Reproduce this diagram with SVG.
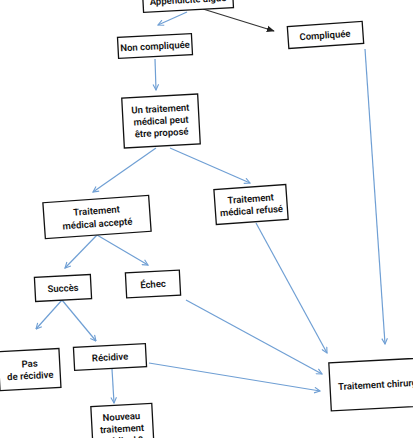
<svg xmlns="http://www.w3.org/2000/svg" width="413" height="438" viewBox="0 0 413 438">
<defs>
<style>
.box{fill:#fff;stroke:#111;stroke-width:1.3}
.t{font-family:Roboto,"Noto Sans",sans-serif;font-size:9.5px;font-weight:600;fill:#111;text-anchor:middle}
.c{stroke:#6f9fd4;stroke-width:1.2;fill:none;marker-end:url(#ab)}
.k{stroke:#333;stroke-width:1.2;fill:none;marker-end:url(#ak)}
</style>
<marker id="ab" viewBox="0 0 10 10" refX="9" refY="5" markerWidth="7" markerHeight="7" orient="auto" markerUnits="userSpaceOnUse">
<path d="M1,1 L9,5 L1,9" fill="none" stroke="#6f9fd4" stroke-width="1.6"/>
</marker>
<marker id="ak" viewBox="0 0 10 10" refX="9" refY="5" markerWidth="8" markerHeight="8" orient="auto" markerUnits="userSpaceOnUse">
<path d="M0,1 L10,5 L0,9 z" fill="#222"/>
</marker>
</defs>
<rect width="413" height="438" fill="#fff"/>
<g id="connectors">
<line class="c" x1="187" y1="12" x2="158" y2="25"/>
<line class="k" x1="203" y1="9" x2="274" y2="31"/>
<line class="c" x1="155" y1="59" x2="156" y2="90"/>
<line class="c" x1="156" y1="148" x2="93" y2="192"/>
<line class="c" x1="170" y1="148" x2="250" y2="183"/>
<line class="c" x1="97" y1="235" x2="65" y2="268"/>
<line class="c" x1="97" y1="235" x2="148" y2="265"/>
<line class="c" x1="62" y1="300" x2="36" y2="329"/>
<line class="c" x1="62" y1="300" x2="96" y2="341"/>
<line class="c" x1="112" y1="369" x2="114" y2="403"/>
<line class="c" x1="365" y1="49" x2="385" y2="344"/>
<line class="c" x1="256" y1="223" x2="327" y2="353"/>
<line class="c" x1="186" y1="300" x2="322" y2="374"/>
<line class="c" x1="149" y1="363" x2="320" y2="391"/>
</g>
<g id="n-appendicite" transform="rotate(-3 188 0)">
<rect class="box" x="143" y="-12" width="90" height="22"/>
<text class="t" x="188" y="3">Appendicite aiguë</text>
</g>
<g id="n-compliquee" transform="rotate(-4 325 35)">
<rect class="box" x="288" y="24" width="75" height="22"/>
<text class="t" x="325" y="38.5">Compliquée</text>
</g>
<g id="n-non-compliquee" transform="rotate(-3 155 46)">
<rect class="box" x="118" y="35.5" width="74" height="21"/>
<text class="t" x="155" y="49.5">Non compliquée</text>
</g>
<g id="n-propose" transform="rotate(-3 161 121)">
<rect class="box" x="123" y="96" width="76" height="50"/>
<text class="t" x="161" y="112">Un traitement</text>
<text class="t" x="161" y="124">médical peut</text>
<text class="t" x="161" y="136">être proposé</text>
</g>
<g id="n-accepte" transform="rotate(-4 97 217)">
<rect class="box" x="44" y="199" width="106" height="36"/>
<text class="t" x="97" y="214">Traitement</text>
<text class="t" x="97" y="227">médical accepté</text>
</g>
<g id="n-refuse" transform="rotate(-4 251 204)">
<rect class="box" x="215" y="187" width="72" height="35"/>
<text class="t" x="251" y="202">Traitement</text>
<text class="t" x="251" y="214">médical refusé</text>
</g>
<g id="n-succes" transform="rotate(-3 63 288)">
<rect class="box" x="35" y="276" width="56" height="24"/>
<text class="t" x="63" y="291.5">Succès</text>
</g>
<g id="n-echec" transform="rotate(-3 153 284)">
<rect class="box" x="126" y="271.5" width="54" height="25"/>
<text class="t" x="153" y="287.5">Échec</text>
</g>
<g id="n-pas-recidive" transform="rotate(-3 30 370)">
<rect class="box" x="-1" y="350" width="61" height="39"/>
<text class="t" x="30" y="367">Pas</text>
<text class="t" x="30" y="379">de récidive</text>
</g>
<g id="n-recidive" transform="rotate(-3 110 357)">
<rect class="box" x="74" y="345.5" width="72" height="23"/>
<text class="t" x="110" y="360.5">Récidive</text>
</g>
<g id="n-nouveau" transform="rotate(-3 122 428)">
<rect class="box" x="92" y="405" width="61" height="48"/>
<text class="t" x="122" y="420">Nouveau</text>
<text class="t" x="122" y="432">traitement</text>
<text class="t" x="122" y="444">médical ?</text>
</g>
<g id="n-chirurgical" transform="rotate(-3 385 384)">
<rect class="box" x="330" y="360" width="115" height="48"/>
<text class="t" x="385" y="387.5">Traitement chirurgical</text>
</g>
</svg>
